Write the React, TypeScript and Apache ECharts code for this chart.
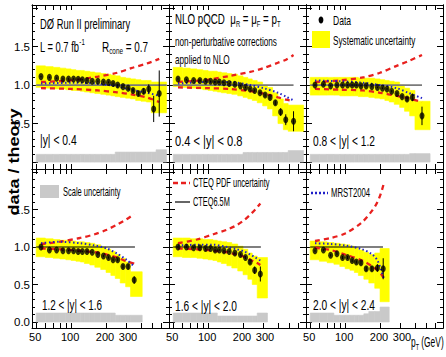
import React, { useEffect, useRef } from "react";
import * as echarts from "echarts";

const SANS = "'Liberation Sans', Arial, Helvetica, sans-serif";

// ---- axes ----
const X_RANGE = [46, 698];
const X_TICKS = [50, 60, 70, 80, 90, 100, 200, 300, 400, 500, 600];
const X_LABELS = [50, 100, 200];
const X_LABELS_EXTRA = [300];
const Y_RANGE_TOP = [-0.09, 2.04];
const Y_RANGE_BOTTOM = [-0.08, 2.04];
const Y_MAJOR = [0, 0.5, 1, 1.5, 2];
const Y_MINOR = [0, 0.1, 0.2, 0.3, 0.4, 0.6, 0.7, 0.8, 0.9, 1.1, 1.2, 1.3, 1.4, 1.6, 1.7, 1.8, 1.9, 2.0];
const Y_LABELS_TOP = [0.5, 1, 1.5];
const Y_LABELS_BOTTOM = [0, 0.5, 1, 1.5];
const SCALE_BASE = 0;

// ---- panel 1: |y| < 0.4 ----
const p1Edges = [50, 60, 70, 80, 90, 100, 110, 120, 130, 145, 160, 180, 200, 220, 240, 265, 295, 325, 360, 400, 445, 490, 540, 665];
const p1Pt = [55, 65, 75, 85, 95, 105, 115, 125, 137, 152, 170, 190, 210, 230, 252, 280, 310, 342, 380, 422, 467, 515, 575];
const p1Val = [1.11, 1.10, 1.09, 1.08, 1.08, 1.08, 1.075, 1.07, 1.06, 1.05, 1.05, 1.04, 1.035, 1.02, 1.0, 0.98, 0.96, 0.93, 0.89, 0.92, 0.95, 0.69, 0.89];
const p1Err = [0.01, 0.01, 0.01, 0.01, 0.01, 0.01, 0.01, 0.01, 0.01, 0.01, 0.01, 0.01, 0.012, 0.012, 0.015, 0.015, 0.02, 0.025, 0.03, 0.04, 0.06, 0.17, 0.3];
const p1SysHi = [1.25, 1.24, 1.23, 1.22, 1.21, 1.2, 1.19, 1.19, 1.18, 1.17, 1.16, 1.15, 1.14, 1.13, 1.12, 1.1, 1.09, 1.08, 1.07, 1.06, 1.06, 1.04, 1.04];
const p1SysLo = [0.97, 0.96, 0.95, 0.95, 0.94, 0.93, 0.93, 0.92, 0.91, 0.9, 0.89, 0.88, 0.87, 0.86, 0.85, 0.84, 0.83, 0.82, 0.8, 0.79, 0.78, 0.64, 0.64];
const p1Scale = [0.1, 0.1, 0.1, 0.1, 0.1, 0.1, 0.1, 0.1, 0.1, 0.1, 0.1, 0.1, 0.1, 0.1, 0.13, 0.13, 0.13, 0.13, 0.13, 0.13, 0.13, 0.13, 0.16];
const p1ThPt = [55, 100, 170, 250, 330, 450, 575];
const p1Up = [1.04, 1.06, 1.11, 1.16, 1.22, 1.28, 1.34];
const p1Dn = [0.96, 0.95, 0.93, 0.905, 0.88, 0.84, 0.78];
const p1Mrst = [1.02, 1.03, 1.02, 0.98, 0.94, 0.9, 0.86];

// ---- panel 2: 0.4 < |y| < 0.8 ----
const p2Edges = [50, 60, 70, 80, 90, 100, 110, 120, 130, 145, 160, 180, 200, 220, 240, 265, 295, 325, 360, 400, 445, 490, 665];
const p2Pt = [55, 65, 75, 85, 95, 105, 115, 125, 137, 152, 170, 190, 210, 230, 252, 280, 310, 342, 380, 422, 467, 545];
const p2Val = [1.08, 1.07, 1.06, 1.06, 1.05, 1.05, 1.04, 1.04, 1.03, 1.02, 1.01, 0.99, 0.97, 0.95, 0.93, 0.9, 0.87, 0.84, 0.77, 0.65, 0.55, 0.53];
const p2Err = [0.01, 0.01, 0.01, 0.01, 0.01, 0.01, 0.01, 0.01, 0.01, 0.01, 0.01, 0.01, 0.012, 0.012, 0.015, 0.015, 0.02, 0.025, 0.03, 0.05, 0.07, 0.13];
const p2SysHi = [1.23, 1.22, 1.21, 1.2, 1.19, 1.18, 1.18, 1.17, 1.16, 1.15, 1.14, 1.12, 1.1, 1.08, 1.06, 1.04, 1.0, 0.97, 0.9, 0.82, 0.76, 0.74];
const p2SysLo = [0.98, 0.97, 0.96, 0.95, 0.94, 0.93, 0.92, 0.91, 0.9, 0.89, 0.88, 0.86, 0.84, 0.82, 0.8, 0.77, 0.73, 0.69, 0.6, 0.5, 0.42, 0.4];
const p2Scale = [0.1, 0.1, 0.1, 0.1, 0.1, 0.1, 0.1, 0.1, 0.1, 0.1, 0.1, 0.1, 0.125, 0.125, 0.125, 0.125, 0.125, 0.125, 0.125, 0.125, 0.125, 0.15];
const p2ThPt = [55, 100, 155, 230, 300, 400, 470, 545];
const p2Up = [1.04, 1.07, 1.12, 1.17, 1.22, 1.29, 1.33, 1.39];
const p2Dn = [0.97, 0.96, 0.95, 0.92, 0.89, 0.84, 0.81, 0.79];
const p2Mrst = [1.02, 1.04, 1.04, 1.0, 0.96, 0.9, 0.85, 0.8];

// ---- panel 3: 0.8 < |y| < 1.2 ----
const p3Edges = [50, 60, 70, 80, 90, 100, 110, 120, 130, 145, 160, 180, 200, 220, 240, 265, 295, 325, 360, 400, 540];
const p3Pt = [55, 65, 75, 85, 95, 105, 115, 125, 137, 152, 170, 190, 210, 230, 252, 280, 310, 342, 380, 460];
const p3Val = [1.0, 1.01, 0.99, 1.0, 1.0, 1.0, 1.0, 1.0, 0.99, 0.99, 0.98, 0.97, 0.96, 0.95, 0.92, 0.89, 0.85, 0.82, 0.84, 0.6];
const p3Err = [0.01, 0.01, 0.01, 0.01, 0.01, 0.01, 0.01, 0.01, 0.01, 0.01, 0.01, 0.01, 0.01, 0.012, 0.015, 0.015, 0.02, 0.03, 0.05, 0.12];
const p3SysHi = [1.1, 1.1, 1.1, 1.1, 1.1, 1.1, 1.1, 1.1, 1.09, 1.09, 1.09, 1.08, 1.07, 1.06, 1.05, 1.04, 1.0, 0.96, 0.93, 0.79];
const p3SysLo = [0.87, 0.87, 0.87, 0.87, 0.86, 0.86, 0.86, 0.86, 0.85, 0.85, 0.84, 0.83, 0.82, 0.8, 0.78, 0.75, 0.71, 0.66, 0.6, 0.42];
const p3Scale = [0.1, 0.1, 0.1, 0.1, 0.1, 0.1, 0.1, 0.1, 0.1, 0.1, 0.1, 0.1, 0.1, 0.1, 0.1, 0.1, 0.1, 0.1, 0.11, 0.11];
const p3ThPt = [55, 90, 143, 200, 278, 350, 460];
const p3Up = [1.04, 1.06, 1.1, 1.16, 1.25, 1.31, 1.39];
const p3Dn = [0.95, 0.94, 0.93, 0.9, 0.86, 0.83, 0.78];
const p3Mrst = [1.06, 1.05, 1.03, 1.0, 0.96, 0.9, 0.83];

// ---- panel 4: 1.2 < |y| < 1.6 ----
const p4Edges = [50, 60, 70, 80, 90, 100, 110, 120, 130, 145, 160, 180, 200, 220, 240, 265, 295, 325, 410];
const p4Pt = [55, 65, 75, 85, 95, 105, 115, 125, 137, 152, 170, 190, 210, 230, 252, 280, 310, 350];
const p4Val = [1.0, 0.96, 0.96, 0.95, 0.95, 0.95, 0.94, 0.94, 0.94, 0.93, 0.9, 0.88, 0.86, 0.83, 0.83, 0.74, 0.74, 0.56];
const p4Err = [0.01, 0.01, 0.01, 0.01, 0.01, 0.01, 0.01, 0.01, 0.01, 0.01, 0.012, 0.012, 0.015, 0.015, 0.02, 0.025, 0.03, 0.05];
const p4SysHi = [1.12, 1.11, 1.1, 1.09, 1.09, 1.08, 1.07, 1.07, 1.06, 1.05, 1.03, 1.0, 0.97, 0.94, 0.9, 0.85, 0.8, 0.67];
const p4SysLo = [0.87, 0.86, 0.85, 0.84, 0.83, 0.82, 0.81, 0.8, 0.78, 0.76, 0.73, 0.7, 0.66, 0.62, 0.58, 0.52, 0.47, 0.34];
const p4Scale = [0.12, 0.12, 0.12, 0.12, 0.12, 0.12, 0.12, 0.12, 0.12, 0.12, 0.12, 0.12, 0.12, 0.12, 0.09, 0.09, 0.09, 0.09];
const p4ThPt = [55, 80, 119, 160, 203, 250, 300, 350];
const p4Up = [1.04, 1.07, 1.12, 1.17, 1.23, 1.3, 1.37, 1.44];
const p4Dn = [0.98, 0.97, 0.95, 0.93, 0.9, 0.86, 0.81, 0.78];
const p4Mrst = [1.05, 1.07, 1.05, 1.02, 0.98, 0.91, 0.83, 0.74];

// ---- panel 5: 1.6 < |y| < 2.0 ----
const p5Edges = [50, 60, 70, 80, 90, 100, 110, 120, 130, 145, 160, 180, 200, 220, 240, 265, 325];
const p5Pt = [55, 65, 75, 85, 95, 105, 115, 125, 137, 152, 170, 190, 210, 230, 252, 282];
const p5Val = [1.0, 1.0, 0.99, 0.99, 0.98, 0.98, 0.96, 0.96, 0.95, 0.94, 0.92, 0.9, 0.86, 0.8, 0.69, 0.64];
const p5Err = [0.01, 0.01, 0.01, 0.01, 0.01, 0.01, 0.01, 0.01, 0.01, 0.01, 0.012, 0.015, 0.02, 0.025, 0.05, 0.1];
const p5SysHi = [1.12, 1.12, 1.11, 1.11, 1.1, 1.1, 1.09, 1.08, 1.07, 1.06, 1.04, 1.01, 0.97, 0.92, 0.88, 0.86];
const p5SysLo = [0.87, 0.86, 0.86, 0.85, 0.84, 0.83, 0.82, 0.8, 0.78, 0.75, 0.72, 0.68, 0.63, 0.57, 0.5, 0.32];
const p5Scale = [0.12, 0.12, 0.12, 0.12, 0.12, 0.12, 0.12, 0.08, 0.08, 0.08, 0.08, 0.08, 0.08, 0.08, 0.08, 0.12];
const p5ThPt = [55, 80, 111, 145, 176, 205, 230, 255, 282];
const p5Up = [1.05, 1.1, 1.17, 1.23, 1.29, 1.36, 1.43, 1.5, 1.58];
const p5Dn = [0.98, 0.97, 0.95, 0.93, 0.9, 0.87, 0.83, 0.8, 0.76];
const p5Mrst = [1.02, 1.03, 1.03, 1.0, 0.97, 0.94, 0.9, 0.86, 0.82];

// ---- panel 6: 2.0 < |y| < 2.4 ----
const p6Edges = [50, 60, 70, 80, 90, 100, 110, 120, 130, 145, 160, 180, 200, 240];
const p6Pt = [55, 65, 75, 85, 95, 105, 115, 125, 137, 152, 170, 190, 213];
const p6Val = [0.95, 0.96, 0.89, 0.91, 0.86, 0.86, 0.82, 0.8, 0.79, 0.71, 0.71, 0.72, 0.71];
const p6Err = [0.015, 0.015, 0.015, 0.015, 0.02, 0.02, 0.02, 0.02, 0.025, 0.03, 0.035, 0.05, 0.14];
const p6SysHi = [1.08, 1.07, 1.06, 1.05, 1.04, 1.03, 1.01, 0.99, 0.96, 0.93, 0.9, 0.92, 0.98];
const p6SysLo = [0.83, 0.81, 0.79, 0.77, 0.74, 0.71, 0.69, 0.66, 0.62, 0.57, 0.52, 0.45, 0.27];
const p6Scale = [0.12, 0.12, 0.12, 0.09, 0.09, 0.09, 0.09, 0.09, 0.09, 0.11, 0.14, 0.14, 0.2];
const p6ThPt = [55, 75, 100, 140, 172, 190, 204, 215];
const p6Up = [1.08, 1.12, 1.18, 1.33, 1.49, 1.6, 1.72, 1.84];
const p6Dn = [0.99, 0.96, 0.9, 0.82, 0.74, 0.69, 0.64, 0.59];
const p6Mrst = [1.05, 1.04, 1.02, 0.97, 0.9, 0.82, 0.7, 0.58];

// end of the CTEQ6.5M reference line (pT) per panel
const REF_END = [665, 545, 460, 355, 285, 212];
const RAPIDITY = ["|y| < 0.4", "0.4 < |y| < 0.8", "0.8 < |y| < 1.2", "1.2 < |y| < 1.6", "1.6 < |y| < 2.0", "2.0 < |y| < 2.4"];

const PANELS = [
  { edges: p1Edges, pt: p1Pt, val: p1Val, err: p1Err, hi: p1SysHi, lo: p1SysLo, scale: p1Scale, th: p1ThPt, up: p1Up, dn: p1Dn, mrst: p1Mrst },
  { edges: p2Edges, pt: p2Pt, val: p2Val, err: p2Err, hi: p2SysHi, lo: p2SysLo, scale: p2Scale, th: p2ThPt, up: p2Up, dn: p2Dn, mrst: p2Mrst },
  { edges: p3Edges, pt: p3Pt, val: p3Val, err: p3Err, hi: p3SysHi, lo: p3SysLo, scale: p3Scale, th: p3ThPt, up: p3Up, dn: p3Dn, mrst: p3Mrst },
  { edges: p4Edges, pt: p4Pt, val: p4Val, err: p4Err, hi: p4SysHi, lo: p4SysLo, scale: p4Scale, th: p4ThPt, up: p4Up, dn: p4Dn, mrst: p4Mrst },
  { edges: p5Edges, pt: p5Pt, val: p5Val, err: p5Err, hi: p5SysHi, lo: p5SysLo, scale: p5Scale, th: p5ThPt, up: p5Up, dn: p5Dn, mrst: p5Mrst },
  { edges: p6Edges, pt: p6Pt, val: p6Val, err: p6Err, hi: p6SysHi, lo: p6SysLo, scale: p6Scale, th: p6ThPt, up: p6Up, dn: p6Dn, mrst: p6Mrst },
];

// ---- layout & style ----
const COL_X = [32, 169, 306];
const COL_W = 137;
const ROW_Y = [5, 169];
const ROW_H = [164, 159];
const YELLOW = "#ffff00";
const GRAY = "#c9c9c9";
const RED = "#e8201e";
const BLUE = "#1f1fc8";
const TICK_FONT = 11;

const lg = (v: number) => Math.log10(v);

const boxRender = (color: string) => (params: any, api: any) => {
  const a = api.coord([api.value(0), api.value(3)]);
  const b = api.coord([api.value(1), api.value(2)]);
  return {
    type: "rect",
    shape: { x: a[0], y: a[1], width: b[0] - a[0], height: b[1] - a[1] },
    style: { fill: color, stroke: color, lineWidth: 0.6 },
  };
};

const errRender = (params: any, api: any) => {
  const a = api.coord([api.value(0), api.value(1)]);
  const b = api.coord([api.value(0), api.value(2)]);
  return {
    type: "line",
    shape: { x1: a[0], y1: a[1], x2: b[0], y2: b[1] },
    style: { stroke: "#000", lineWidth: 1 },
  };
};

function txt(x: number, y: number, text: string, size: number, sx: number, rich?: any) {
  return {
    type: "text",
    x,
    y,
    scaleX: sx,
    z: 100,
    style: {
      text,
      fontSize: size,
      fontFamily: SANS,
      fill: "#000",
      align: "left",
      verticalAlign: "middle",
      rich,
    },
  };
}

function buildOption() {
  const grid: any[] = [];
  const xAxis: any[] = [];
  const yAxis: any[] = [];
  const series: any[] = [];
  const line = { color: "#000", width: 1 };
  const xFmt = (v: number) => String(Math.round(Math.pow(10, v)));
  const xLabel = (vals: number[], padding: number[]) => ({
    show: true,
    customValues: vals.map(lg),
    formatter: xFmt,
    margin: 3,
    padding,
    hideOverlap: false,
    fontFamily: SANS,
    fontSize: TICK_FONT,
    color: "#000",
  });

  PANELS.forEach((p, g) => {
    const row = Math.floor(g / 3);
    const col = g % 3;
    const yr = row === 0 ? Y_RANGE_TOP : Y_RANGE_BOTTOM;
    grid.push({ left: COL_X[col], top: ROW_Y[row], width: COL_W, height: ROW_H[row] });

    const xBase = {
      type: "value",
      gridIndex: g,
      min: lg(X_RANGE[0]),
      max: lg(X_RANGE[1]),
      splitLine: { show: false },
      axisLine: { show: true, onZero: false, lineStyle: line },
      axisTick: { show: true, inside: true, length: 5, customValues: X_TICKS.map(lg), lineStyle: line },
    };
    const xi = xAxis.length;
    xAxis.push({ ...xBase, position: "bottom", axisLabel: row === 1 ? xLabel(X_LABELS, [0, 2, 0, 0]) : { show: false } });
    xAxis.push({ ...xBase, position: "top", axisLabel: { show: false } });
    if (row === 1) {
      xAxis.push({
        ...xBase,
        position: "bottom",
        axisLine: { show: false, onZero: false },
        axisTick: { show: false },
        axisLabel: xLabel(X_LABELS_EXTRA, [0, 0, 0, 3]),
      });
    }

    const yBase = {
      type: "value",
      gridIndex: g,
      min: yr[0],
      max: yr[1],
      splitLine: { show: false },
      axisLine: { show: true, onZero: false, lineStyle: line },
    };
    const major = { show: true, inside: true, length: 6, customValues: Y_MAJOR, lineStyle: line };
    const minor = { show: true, inside: true, length: 3, customValues: Y_MINOR, lineStyle: line };
    const yi = yAxis.length;
    yAxis.push({
      ...yBase,
      position: "left",
      axisTick: major,
      axisLabel:
        col === 0
          ? {
              show: true,
              customValues: row === 0 ? Y_LABELS_TOP : Y_LABELS_BOTTOM,
              formatter: (v: number) => v.toFixed(1),
              margin: 2,
              fontFamily: SANS,
              fontSize: 11.5,
              color: "#000",
            }
          : { show: false },
    });
    yAxis.push({ ...yBase, position: "left", axisTick: minor, axisLabel: { show: false } });
    yAxis.push({ ...yBase, position: "right", axisTick: major, axisLabel: { show: false } });
    yAxis.push({ ...yBase, position: "right", axisTick: minor, axisLabel: { show: false } });

    const c = { xAxisIndex: xi, yAxisIndex: yi, silent: true };
    series.push({
      ...c,
      type: "custom",
      name: "Systematic uncertainty",
      z: 1,
      renderItem: boxRender(YELLOW),
      data: p.lo.map((lo, i) => [lg(p.edges[i]), lg(p.edges[i + 1]), lo, p.hi[i]]),
    });
    series.push({
      ...c,
      type: "custom",
      name: "Scale uncertainty",
      z: 1,
      renderItem: boxRender(GRAY),
      data: p.scale.map((s, i) => [lg(p.edges[i]), lg(p.edges[i + 1]), SCALE_BASE, s]),
    });
    series.push({
      ...c,
      type: "line",
      name: "CTEQ6.5M",
      z: 2,
      symbol: "none",
      lineStyle: { color: row === 0 ? "#7a7a7a" : "#000", width: row === 0 ? 1.6 : 1.2 },
      data: [
        [lg(p.edges[0]), 1],
        [lg(REF_END[g]), 1],
      ],
    });
    [p.up, p.dn].forEach((arr) => {
      series.push({
        ...c,
        type: "line",
        name: "CTEQ PDF uncertainty",
        z: 3,
        symbol: "none",
        smooth: 0.3,
        lineStyle: { color: RED, width: 2.3, type: [5, 4] },
        data: p.th.map((x, i) => [lg(x), arr[i]]),
      });
    });
    series.push({
      ...c,
      type: "line",
      name: "MRST2004",
      z: 3,
      symbol: "none",
      smooth: 0.3,
      lineStyle: { color: BLUE, width: 2, type: [1.5, 2.5] },
      data: p.th.map((x, i) => [lg(x), p.mrst[i]]),
    });
    series.push({
      ...c,
      type: "custom",
      name: "stat",
      z: 4,
      renderItem: errRender,
      data: p.pt.map((x, i) => [lg(x), p.val[i] - p.err[i], p.val[i] + p.err[i]]),
    });
    series.push({
      ...c,
      type: "scatter",
      name: "Data",
      z: 5,
      symbol: "circle",
      symbolSize: [5, 7],
      itemStyle: { color: "#000" },
      data: p.pt.map((x, i) => [lg(x), p.val[i]]),
    });
  });

  const sub = (size: number) => ({ fontSize: size, fontFamily: SANS, verticalAlign: "bottom", lineHeight: 10 });
  const sup = (size: number) => ({ fontSize: size, fontFamily: SANS, verticalAlign: "top", lineHeight: 10 });
  const main = (size: number) => ({ fontSize: size, fontFamily: SANS, lineHeight: size + 4 });

  const graphic: any[] = [
    txt(40, 24, "DØ Run II preliminary", 14, 0.67),
    txt(40, 47, "{m|L = 0.7 fb}{u|-1}", 14, 0.67, { m: main(14), u: sup(9) }),
    txt(102, 47, "{m|R}{s|cone}{m| = 0.7}", 14, 0.71, { m: main(14), s: sub(9) }),
    txt(175, 19, "{m|NLO pQCD  μ}{s|R}{m| = μ}{s|F}{m| = p}{s|T}", 15, 0.65, { m: main(15), s: sub(9) }),
    txt(175, 41, "non-perturbative corrections", 13, 0.63),
    txt(175, 59, "applied to NLO", 13, 0.63),
    { type: "ellipse", z: 100, shape: { cx: 321, cy: 20, rx: 2.4, ry: 3.4 }, style: { fill: "#000" } },
    txt(333, 20, "Data", 13, 0.66),
    { type: "rect", z: 100, shape: { x: 312, y: 31, width: 18, height: 17 }, style: { fill: YELLOW } },
    txt(333, 40, "Systematic uncertainty", 13, 0.63),
    { type: "rect", z: 100, shape: { x: 40, y: 185, width: 19, height: 13 }, style: { fill: GRAY } },
    txt(63, 192, "Scale uncertainty", 12.5, 0.6),
    { type: "line", z: 100, shape: { x1: 173, y1: 183, x2: 190, y2: 183 }, style: { stroke: RED, lineWidth: 2.5, lineDash: [5, 3] } },
    txt(193, 183, "CTEQ PDF uncertainty", 12.5, 0.6),
    { type: "line", z: 100, shape: { x1: 175, y1: 202, x2: 190, y2: 202 }, style: { stroke: "#000", lineWidth: 1.2 } },
    txt(193, 202, "CTEQ6.5M", 12.5, 0.59),
    { type: "line", z: 100, shape: { x1: 311, y1: 193, x2: 328, y2: 193 }, style: { stroke: BLUE, lineWidth: 2.5, lineDash: [2, 2] } },
    txt(331, 193, "MRST2004", 12.5, 0.62),
    txt(411, 342, "{m|p}{s|T}{m| (GeV)}", 14, 0.6, { m: main(14), s: sub(9) }),
    {
      type: "text",
      x: 14,
      y: 162,
      rotation: Math.PI / 2,
      scaleY: 0.8,
      z: 100,
      style: {
        text: "data / theory",
        fontSize: 18,
        fontWeight: "bold",
        fontFamily: SANS,
        fill: "#000",
        align: "center",
        verticalAlign: "middle",
      },
    },
  ];
  const rapPos = [
    [40, 140, 0.69],
    [175, 141, 0.74],
    [313, 141, 0.68],
    [42, 305, 0.66],
    [175, 306, 0.68],
    [313, 305, 0.68],
  ];
  RAPIDITY.forEach((t, i) => graphic.push(txt(rapPos[i][0], rapPos[i][1], t, 15, rapPos[i][2])));

  return {
    animation: false,
    backgroundColor: "#fff",
    grid,
    xAxis,
    yAxis,
    series,
    graphic,
  };
}

export default function App() {
  const ref = useRef<HTMLDivElement>(null);
  useEffect(() => {
    document.body.style.margin = "0";
    if (!ref.current) return;
    const chart = echarts.init(ref.current, null, { renderer: "svg" });
    chart.setOption(buildOption() as any);
    return () => chart.dispose();
  }, []);
  return <div ref={ref} style={{ width: 446, height: 357 }} />;
}
